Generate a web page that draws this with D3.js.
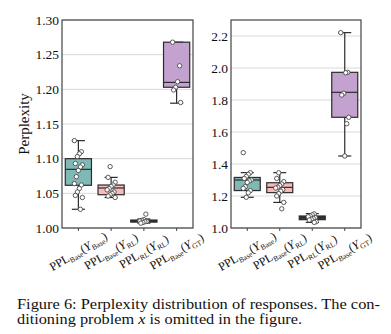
<!DOCTYPE html>
<meta charset="utf-8">
<title>Perplexity distribution of responses</title>
<style>
	body {
		margin: 0;
		background-color: white;
	}
	.grid line {
		stroke: #d9d9d9;
		stroke-width: 1px;
	}
	.frame {
		fill: none;
		stroke: #444;
		stroke-width: 1.2px;
	}
	.box rect, .box line {
		stroke: #2b2b2b;
		stroke-width: 1.2px;
	}
	.pts circle {
		fill: white;
		stroke: #4a4a4a;
		stroke-width: 0.9px;
	}
</style>
<svg width="391" height="334" font-family="Liberation Serif" fill="#111"></svg>
<script src="https://d3js.org/d3.v7.min.js"></script>
<script>
      // categories: PPL_<model>(Y_<response>)
      var pplSub = ["Base", "Base", "RL", "Base"];
      var ySub = ["Base", "RL", "RL", "GT"];
      var boxColors = ["#80b8b5", "#f6baba", "#3b3b30", "#c4a2d0"];

      // left panel
      var leftTicks = [1.00, 1.05, 1.10, 1.15, 1.20, 1.25, 1.30];
      var leftWhiskerLo = [1.027, 1.044, 1.007, 1.180];
      var leftQ1 = [1.0616, 1.048, 1.0085, 1.203];
      var leftMedian = [1.0846, 1.0577, 1.0100, 1.210];
      var leftQ3 = [1.100, 1.062, 1.0115, 1.268];
      var leftWhiskerHi = [1.126, 1.073, 1.013, 1.268];
      var leftPoints = [
        [1.126, 1.110, 1.107, 1.103, 1.093, 1.091, 1.088, 1.083, 1.074, 1.064, 1.062, 1.057, 1.052, 1.047, 1.044, 1.027],
        [1.0885, 1.073, 1.066, 1.062, 1.060, 1.057, 1.055, 1.052, 1.050, 1.048, 1.046, 1.044],
        [1.020, 1.012, 1.011, 1.010, 1.0095, 1.009, 1.008, 1.007],
        [1.268, 1.234, 1.211, 1.203, 1.199, 1.181]
      ];

      // right panel
      var rightTicks = [1.0, 1.2, 1.4, 1.6, 1.8, 2.0, 2.2];
      var rightWhiskerLo = [1.192, 1.160, 1.035, 1.450];
      var rightQ1 = [1.234, 1.221, 1.052, 1.692];
      var rightMedian = [1.300, 1.254, 1.065, 1.848];
      var rightQ3 = [1.316, 1.283, 1.075, 1.973];
      var rightWhiskerHi = [1.346, 1.346, 1.090, 2.221];
      var rightPoints = [
        [1.471, 1.346, 1.335, 1.322, 1.310, 1.300, 1.294, 1.285, 1.258, 1.248, 1.233, 1.220, 1.192],
        [1.345, 1.310, 1.290, 1.275, 1.265, 1.255, 1.250, 1.240, 1.230, 1.215, 1.200, 1.160, 1.120],
        [1.088, 1.082, 1.075, 1.070, 1.065, 1.060, 1.055, 1.050, 1.040, 1.035],
        [2.221, 1.973, 1.970, 1.842, 1.831, 1.692, 1.652, 1.450]
      ];

      var svg = d3.select("svg");

      function panel(opt) {
        var x = d3.scaleBand()
                  .domain(d3.range(pplSub.length))
                  .range([opt.x0, opt.x1]);
        var y = d3.scaleLinear().domain(opt.domain).range([228, 20]);
        var g = svg.append("g");

        g.append("g").attr("class", "grid")
         .selectAll("line").data(opt.ticks).enter().append("line")
         .attr("x1", opt.x0).attr("x2", opt.x1)
         .attr("y1", function(d) { return y(d); })
         .attr("y2", function(d) { return y(d); });

        // y axis labels
        var yAxis = d3.axisLeft(y).tickValues(opt.ticks).tickSize(0).tickPadding(3)
                      .tickFormat(d3.format(opt.fmt));
        var ya = g.append("g").attr("transform", "translate(" + opt.x0 + ",0)").call(yAxis);
        ya.attr("font-family", "Liberation Serif").attr("font-size", 13.5);
        ya.select(".domain").remove();
        ya.selectAll("text").attr("fill", "#111").attr("font-family", "Liberation Serif");

        // x ticks
        var xAxis = d3.axisBottom(x).tickSize(3).tickFormat("");
        var xa = g.append("g").attr("transform", "translate(0,228)").call(xAxis);
        xa.select(".domain").remove();
        xa.selectAll("line").attr("stroke", "#444");

        var bw = x.bandwidth() * 0.8;
        var boxes = g.append("g").attr("class", "box")
                     .selectAll("g").data(d3.range(pplSub.length)).enter().append("g");
        var cx = function(i) { return x(i) + x.bandwidth() / 2; };

        boxes.append("line")
             .attr("x1", cx).attr("x2", cx)
             .attr("y1", function(i) { return y(opt.lo[i]); })
             .attr("y2", function(i) { return y(opt.hi[i]); });
        boxes.append("line")
             .attr("x1", function(i) { return cx(i) - bw / 4; })
             .attr("x2", function(i) { return cx(i) + bw / 4; })
             .attr("y1", function(i) { return y(opt.lo[i]); })
             .attr("y2", function(i) { return y(opt.lo[i]); });
        boxes.append("line")
             .attr("x1", function(i) { return cx(i) - bw / 4; })
             .attr("x2", function(i) { return cx(i) + bw / 4; })
             .attr("y1", function(i) { return y(opt.hi[i]); })
             .attr("y2", function(i) { return y(opt.hi[i]); });
        boxes.append("rect")
             .attr("x", function(i) { return cx(i) - bw / 2; })
             .attr("width", bw)
             .attr("y", function(i) { return y(opt.q3[i]); })
             .attr("height", function(i) { return y(opt.q1[i]) - y(opt.q3[i]); })
             .attr("fill", function(i) { return boxColors[i]; });
        boxes.append("line")
             .attr("x1", function(i) { return cx(i) - bw / 2; })
             .attr("x2", function(i) { return cx(i) + bw / 2; })
             .attr("y1", function(i) { return y(opt.med[i]); })
             .attr("y2", function(i) { return y(opt.med[i]); });

        // strip points with a small fixed jitter
        var pts = [];
        opt.points.forEach(function(arr, i) {
          arr.forEach(function(v, j) { pts.push({ c: i, v: v, j: j }); });
        });
        g.append("g").attr("class", "pts")
         .selectAll("circle").data(pts).enter().append("circle")
         .attr("r", 2.2)
         .attr("cx", function(d) { return cx(d.c) + (((d.j * 7 + d.c * 3) % 9) - 4) * 1.0; })
         .attr("cy", function(d) { return y(d.v); });

        g.append("rect").attr("class", "frame")
         .attr("x", opt.x0).attr("y", 20)
         .attr("width", opt.x1 - opt.x0).attr("height", 208);

        // rotated category labels
        var lab = g.append("g").selectAll("text").data(d3.range(pplSub.length)).enter()
                   .append("text")
                   .attr("text-anchor", "middle")
                   .attr("transform", function(i) {
                     return "translate(" + (cx(i) + 2) + ",255) rotate(-30)";
                   })
                   .attr("font-size", 12);
        lab.append("tspan").text("PPL");
        lab.append("tspan").attr("dy", 2.5).attr("font-size", 7.5).text(function(i) { return pplSub[i]; });
        lab.append("tspan").attr("dy", -2.5).text("(");
        lab.append("tspan").attr("font-style", "italic").text("Y");
        lab.append("tspan").attr("dy", 2.5).attr("font-size", 7.5).text(function(i) { return ySub[i]; });
        lab.append("tspan").attr("dy", -2.5).text(")");
      }

      panel({ x0: 62, x1: 193, domain: [1.0, 1.3], ticks: leftTicks, fmt: ".2f",
              lo: leftWhiskerLo, q1: leftQ1, med: leftMedian, q3: leftQ3, hi: leftWhiskerHi,
              points: leftPoints });
      panel({ x0: 231, x1: 361, domain: [1.0, 2.3], ticks: rightTicks, fmt: ".1f",
              lo: rightWhiskerLo, q1: rightQ1, med: rightMedian, q3: rightQ3, hi: rightWhiskerHi,
              points: rightPoints });

      svg.append("text")
         .attr("transform", "translate(29,124) rotate(-90)")
         .attr("text-anchor", "middle")
         .attr("font-size", 15)
         .text("Perplexity");

      // caption
      var cap = svg.append("g").attr("font-size", 14);
      cap.append("text").attr("x", 17).attr("y", 309)
         .attr("textLength", 363).attr("lengthAdjust", "spacingAndGlyphs")
         .text("Figure 6: Perplexity distribution of responses. The con-");
      var l2 = cap.append("text").attr("x", 17).attr("y", 324)
                  .attr("textLength", 285).attr("lengthAdjust", "spacingAndGlyphs");
      l2.append("tspan").text("ditioning problem ");
      l2.append("tspan").attr("font-style", "italic").text("x");
      l2.append("tspan").text(" is omitted in the figure.");
</script>
